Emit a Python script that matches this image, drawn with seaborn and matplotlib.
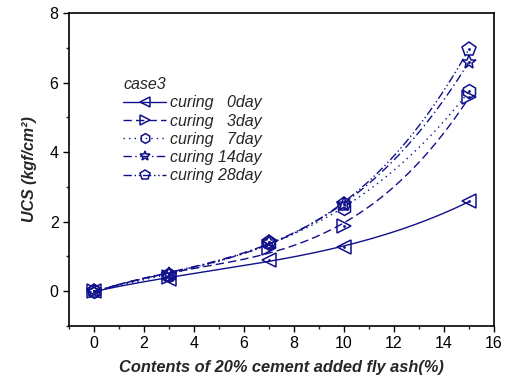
import numpy as np
import pandas as pd
import matplotlib
matplotlib.use("Agg")
import matplotlib.pyplot as plt
from matplotlib.lines import Line2D
import seaborn as sns

# Fly ash content (%) and UCS (kgf/cm^2) for each curing period
fly_ash = [0, 3, 7, 10, 15]
ucs_0day = [0.0, 0.36, 0.91, 1.27, 2.58]
ucs_3day = [0.0, 0.42, 1.25, 1.87, 5.58]
ucs_7day = [0.0, 0.47, 1.38, 2.40, 5.75]
ucs_14day = [0.0, 0.50, 1.42, 2.50, 6.60]
ucs_28day = [0.0, 0.48, 1.42, 2.52, 6.97]
labels = ["curing   0day", "curing   3day", "curing   7day", "curing 14day", "curing 28day"]
legend_title = "case3"

series = [ucs_0day, ucs_3day, ucs_7day, ucs_14day, ucs_28day]
markers = ["<", ">", "h", "*", "p"]
dashes = [(None, None), (6, 3), (1, 3), (6, 2.5, 1, 2.5), (6, 2, 1, 2, 1, 2)]
styles = ["-", "--", ":", "-.", "-."]
color = "#10108a"

sns.set_theme(style="ticks")
plt.rcParams["font.family"] = ["Liberation Sans", "DejaVu Sans"]

fig = plt.figure(figsize=(5.09, 3.78), dpi=100)
ax = fig.add_axes([0.1356, 0.1376, 0.8349, 0.828])

handles = []
for vals, mk, ds, ls, lab in zip(series, markers, dashes, styles, labels):
    coef = np.polyfit(fly_ash, vals, 3)
    xs = np.linspace(0, 15, 200)
    fit = pd.DataFrame({"x": xs, "y": np.polyval(coef, xs)})
    sns.lineplot(data=fit, x="x", y="y", ax=ax, color=color, linewidth=1.0,
                 linestyle=ls if ds[0] is None else "--", estimator=None)
    line = ax.lines[-1]
    if ds[0] is not None:
        line.set_dashes(ds)
    pts = pd.DataFrame({"x": fly_ash, "y": vals})
    ax.plot(pts["x"], pts["y"], linestyle="none", marker=mk, markersize=10,
            markerfacecolor="none", markeredgecolor=color, markeredgewidth=1.1)
    ax.plot(pts["x"], pts["y"], linestyle="none", marker=".", markersize=2,
            color=color)
    h = Line2D([], [], color=color, linewidth=1.0, linestyle=ls,
               marker=mk, markersize=7, markerfacecolor="none",
               markeredgecolor=color, markeredgewidth=1.1)
    if ds[0] is not None:
        h.set_dashes(ds)
    handles.append(h)

ax.set_xlim(-1, 16)
ax.set_ylim(-1, 8)
ax.set_xticks(range(0, 17, 2))
ax.set_xticks(range(-1, 17), minor=True)
ax.set_yticks(range(0, 9, 2))
ax.set_yticks(range(-1, 9), minor=True)
ax.tick_params(axis="both", which="major", length=4, width=1, labelsize=11.5,
               colors="black", direction="out")
ax.tick_params(axis="both", which="minor", length=2.5, width=1, direction="out")
for s in ax.spines.values():
    s.set_color("black")
    s.set_linewidth(1.2)

ax.set_xlabel("Contents of 20% cement added fly ash(%)", fontsize=11.8,
              fontweight="bold", fontstyle="italic", labelpad=6)
ax.set_ylabel("UCS (kgf/cm²)", fontsize=11.5, fontweight="bold",
              fontstyle="italic", labelpad=9)

leg = ax.legend(handles=handles, labels=labels, title=legend_title,
                loc="upper left", bbox_to_anchor=(0.112, 0.815), frameon=False,
                fontsize=11.5, handlelength=2.7, handletextpad=0.25,
                labelspacing=0.2, borderaxespad=0)
leg.get_title().set_fontstyle("italic")
leg.get_title().set_fontsize(11.5)
leg._legend_box.align = "left"
for t in leg.get_texts():
    t.set_fontstyle("italic")

fig.savefig("out.png", dpi=100)
